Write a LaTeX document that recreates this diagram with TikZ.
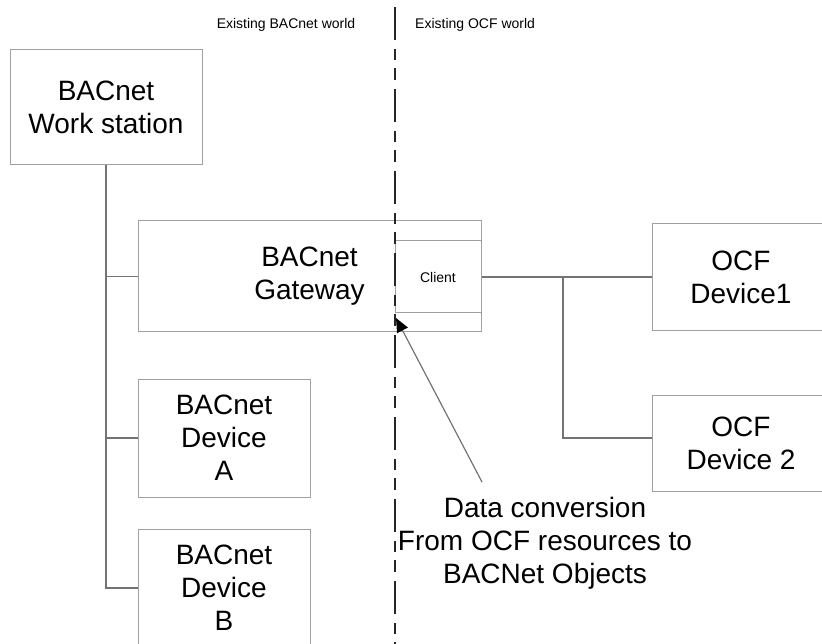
\documentclass[tikz,border=0pt]{standalone}
\usepackage{fontspec}
\setmainfont{Liberation Sans}
\usetikzlibrary{arrows.meta}

\definecolor{boxgray}{RGB}{160,160,160}
\definecolor{linegray}{RGB}{115,115,115}
\newcommand{\bigtext}{\fontsize{28}{33}\selectfont}
\newcommand{\smalltext}{\fontsize{14}{16}\selectfont}

\tikzset{
	unit/.style={draw=boxgray, line width=1pt, align=center, inner sep=0pt, font=\bigtext},
	wire/.style={draw=linegray, line width=1.2pt},
	divider/.style={draw=black!85, line width=2pt, dash pattern=on 33pt off 9pt on 11pt off 8pt on 12pt off 9pt},
	worldlabel/.style={font=\smalltext, inner sep=0pt}
}

\begin{document}
\begin{tikzpicture}[x=1pt, y=-1pt]
				\useasboundingbox (0,0) rectangle (822,644);
				\clip (0,0) rectangle (822,644);
				
				% Блоки BACnet
				\node[unit, minimum width=192pt, minimum height=115pt] (ws) at (106,107.5) {BACnet\\Work station};
				\node[unit, minimum width=343pt, minimum height=111pt] (gw) at (309.5,276.5) {BACnet\\Gateway};
				\node[unit, minimum width=86pt, minimum height=72pt, font=\smalltext] (client) at (438,277) {Client};
				\node[unit, minimum width=172pt, minimum height=118pt] (devA) at (224,438) {BACnet\\Device\\A};
				\node[unit, minimum width=172pt, minimum height=118pt] (devB) at (224,588) {BACnet\\Device\\B};
				
				% Блоки OCF
				\node[unit, minimum width=178pt, minimum height=107pt] (ocf1) at (741,277) {OCF\\Device1};
				\node[unit, minimum width=178pt, minimum height=96pt] (ocf2) at (741,443) {OCF\\Device 2};
				
				% Граница между мирами
				\coordinate (top) at (395,7);
				\coordinate (bottom) at (395,644);
				\draw[divider] (top) -- (bottom);
				\node[worldlabel] (bacworld) at (286,25) {Existing BACnet world};
				\node[worldlabel, anchor=west] (ocfworld) at (415,25) {Existing OCF world};
				
				% Шина BACnet
				\draw[wire] (ws.south) |- (devB.west);
				\draw[wire] (gw.west) -- (gw.west -| ws.south);
				\draw[wire] (devA.west) -- (devA.west -| ws.south);
				
				% Шина OCF
				\coordinate (tap) at (563,277);
				\draw[wire] (client.east) -- (ocf1.west);
				\draw[wire] (tap) |- ([yshift=5pt]ocf2.west);
				
				% Пояснение
				\node[font=\bigtext, align=center, inner sep=0pt] (conv) at (545,543) {Data conversion\\From OCF resources to\\BACNet Objects};
				\coordinate (tail) at (482,482);
				\coordinate (tip) at (396,318);
				\draw[wire, -{Triangle[length=14pt, width=12pt, color=black]}] (tail) -- (tip);
			\end{tikzpicture}
\end{document}
